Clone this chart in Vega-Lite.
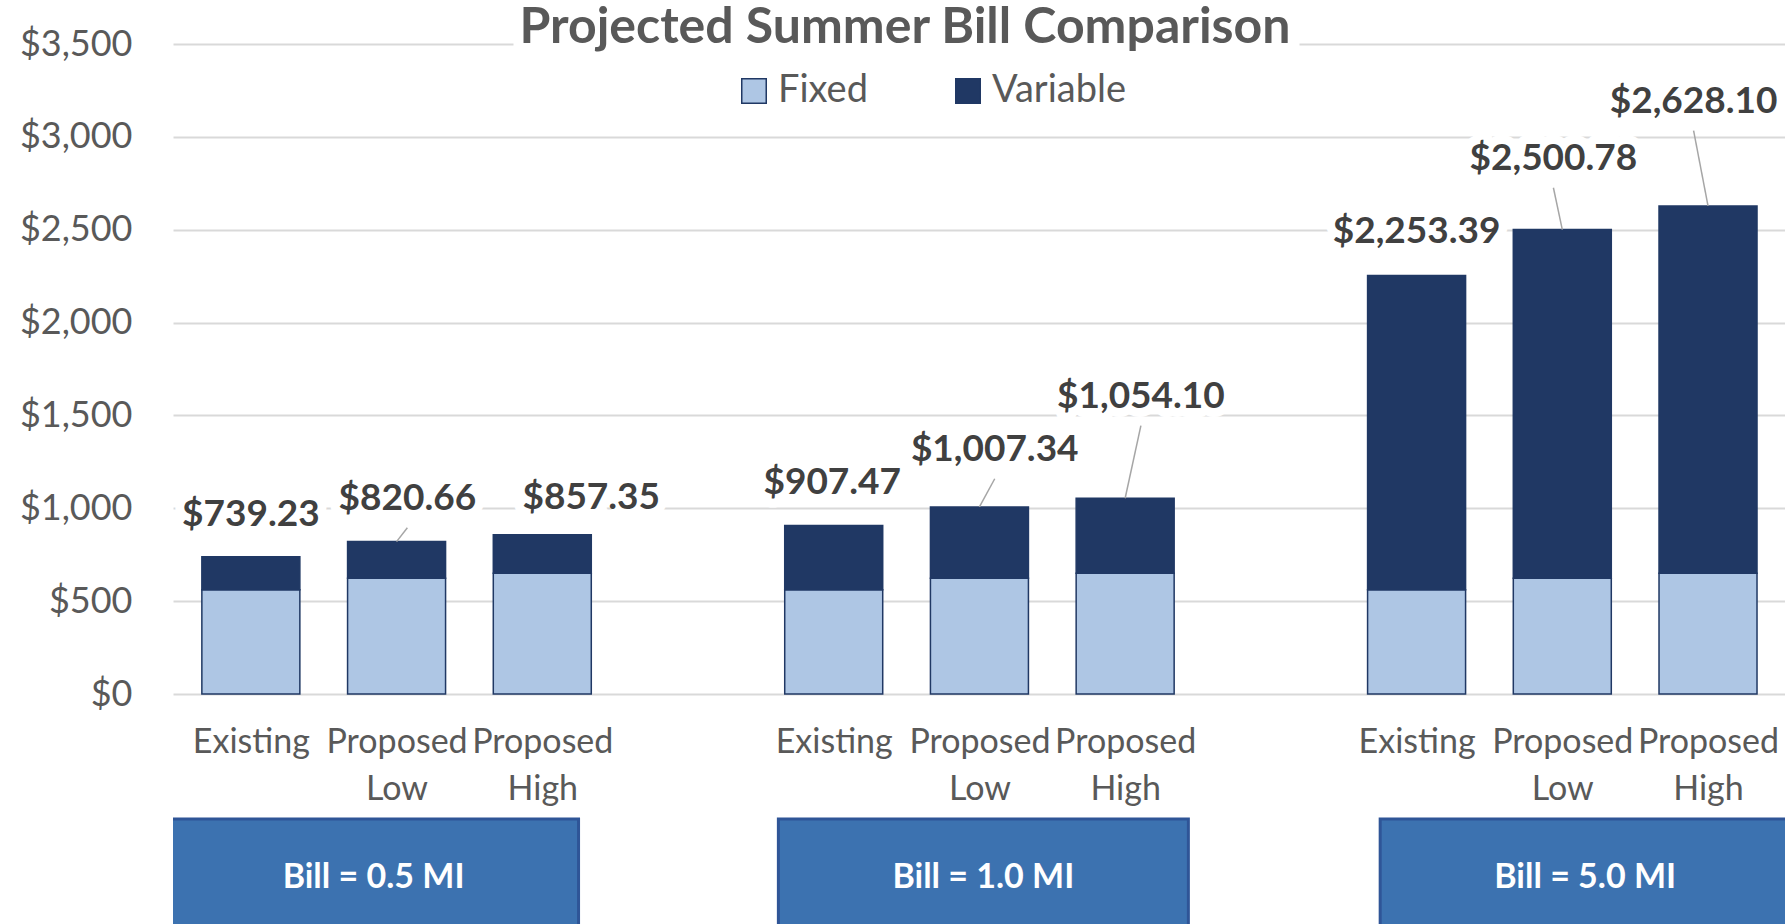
{
  "$schema": "https://vega.github.io/schema/vega-lite/v6.json",
  "background": "white",
  "padding": {"left": 0, "top": 3, "right": 0, "bottom": 0},
  "spacing": 0,
  "config": {"font": "Lato", "view": {"stroke": null}},
  "resolve": {"scale": {"color": "independent"}, "legend": {"color": "independent"}},
  "datasets": {
    "bars": [
      {"group": "0.5 MI", "scenario": "Existing", "slot": 0, "component": "Fixed", "amount": 561},
      {"group": "0.5 MI", "scenario": "Existing", "slot": 0, "component": "Variable", "amount": 178.23},
      {"group": "0.5 MI", "scenario": "Proposed Low", "slot": 1, "component": "Fixed", "amount": 623},
      {"group": "0.5 MI", "scenario": "Proposed Low", "slot": 1, "component": "Variable", "amount": 197.66},
      {"group": "0.5 MI", "scenario": "Proposed High", "slot": 2, "component": "Fixed", "amount": 650},
      {"group": "0.5 MI", "scenario": "Proposed High", "slot": 2, "component": "Variable", "amount": 207.35},
      {"group": "1.0 MI", "scenario": "Existing", "slot": 4, "component": "Fixed", "amount": 561},
      {"group": "1.0 MI", "scenario": "Existing", "slot": 4, "component": "Variable", "amount": 346.47},
      {"group": "1.0 MI", "scenario": "Proposed Low", "slot": 5, "component": "Fixed", "amount": 623},
      {"group": "1.0 MI", "scenario": "Proposed Low", "slot": 5, "component": "Variable", "amount": 384.34},
      {"group": "1.0 MI", "scenario": "Proposed High", "slot": 6, "component": "Fixed", "amount": 650},
      {"group": "1.0 MI", "scenario": "Proposed High", "slot": 6, "component": "Variable", "amount": 404.10},
      {"group": "5.0 MI", "scenario": "Existing", "slot": 8, "component": "Fixed", "amount": 561},
      {"group": "5.0 MI", "scenario": "Existing", "slot": 8, "component": "Variable", "amount": 1692.39},
      {"group": "5.0 MI", "scenario": "Proposed Low", "slot": 9, "component": "Fixed", "amount": 623},
      {"group": "5.0 MI", "scenario": "Proposed Low", "slot": 9, "component": "Variable", "amount": 1877.78},
      {"group": "5.0 MI", "scenario": "Proposed High", "slot": 10, "component": "Fixed", "amount": 650},
      {"group": "5.0 MI", "scenario": "Proposed High", "slot": 10, "component": "Variable", "amount": 1978.10}
    ],
    "labels": [
      {"slot": 0, "total": 739.23, "label_slot": 0.0, "label_amount": 809},
      {"slot": 1, "total": 820.66, "label_slot": 1.074, "label_amount": 895},
      {"slot": 2, "total": 857.35, "label_slot": 2.336, "label_amount": 901},
      {"slot": 4, "total": 907.47, "label_slot": 3.99, "label_amount": 982},
      {"slot": 5, "total": 1007.34, "label_slot": 5.105, "label_amount": 1159},
      {"slot": 6, "total": 1054.10, "label_slot": 6.108, "label_amount": 1445},
      {"slot": 8, "total": 2253.39, "label_slot": 8.0, "label_amount": 2333},
      {"slot": 9, "total": 2500.78, "label_slot": 8.939, "label_amount": 2726},
      {"slot": 10, "total": 2628.10, "label_slot": 9.901, "label_amount": 3033}
    ],
    "groups": [
      {"group": "Bill = 0.5 MI", "center": 0.842},
      {"group": "Bill = 1.0 MI", "center": 5.027},
      {"group": "Bill = 5.0 MI", "center": 9.157}
    ]
  },
  "vconcat": [
    {
      "width": 1612,
      "height": 650,
      "title": {
        "text": "Projected Summer Bill Comparison",
        "font": "Lato",
        "fontSize": 50,
        "fontWeight": "bold",
        "color": "#595959",
        "anchor": "middle",
        "frame": "group",
        "dx": -74,
        "offset": -67,
        "baseline": "alphabetic"
      },
      "layer": [
        {
          "data": {"name": "bars"},
          "mark": {"type": "bar", "width": 98, "stroke": "#203864", "strokeWidth": 1.5},
          "encoding": {
            "x": {
              "field": "slot", "type": "quantitative",
              "scale": {"domain": [-0.5, 10.494], "nice": false, "zero": false},
              "axis": {
                "values": [0, 1, 2, 4, 5, 6, 8, 9, 10],
                "labelExpr": "datum.value % 4 === 0 ? 'Existing' : ['Proposed', datum.value % 4 === 1 ? 'Low' : 'High']",
                "title": null, "grid": false, "domain": false, "ticks": false,
                "labelFont": "Lato", "labelFontSize": 34, "labelColor": "#595959",
                "labelPadding": 31, "labelLineHeight": 47,
                "labelOverlap": false, "labelFlush": false, "labelBound": false,
                "minExtent": 123, "maxExtent": 123
              }
            },
            "y": {
              "field": "amount", "type": "quantitative", "stack": "zero",
              "scale": {"domain": [0, 3500], "nice": false},
              "axis": {
                "values": [0, 500, 1000, 1500, 2000, 2500, 3000, 3500],
                "format": "$,.0f", "title": null, "domain": false, "ticks": false,
                "labelFont": "Lato", "labelFontSize": 36, "labelColor": "#595959",
                "labelPadding": 41, "minExtent": 173, "maxExtent": 173,
                "gridColor": "#D9D9D9", "gridWidth": 2,
                "gridDash": {"condition": {"test": "datum.value === 3500", "value": [340, 786, 3000, 0]}, "value": []}
              }
            },
            "order": {"field": "component", "sort": "ascending"},
            "color": {
              "field": "component", "type": "nominal",
              "scale": {"domain": ["Fixed", "Variable"], "range": ["#AEC6E4", "#203864"]},
              "legend": {
                "orient": "none", "legendX": 562, "legendY": 28, "direction": "horizontal",
                "title": null, "symbolType": "square", "symbolSize": 600,
                "symbolStrokeColor": "#203864", "symbolStrokeWidth": 1.5, "symbolOpacity": 1,
                "labelFont": "Lato", "labelFontSize": 38, "labelColor": "#595959",
                "labelOffset": 5, "columnPadding": 81, "padding": 0
              }
            }
          }
        },
        {
          "data": {"name": "labels"},
          "transform": [{"filter": {"field": "slot", "oneOf": [1, 5, 6, 9, 10]}}],
          "mark": {"type": "rule", "stroke": "#A6A6A6", "strokeWidth": 1.5},
          "encoding": {
            "x": {"field": "label_slot", "type": "quantitative"},
            "y": {"field": "label_amount", "type": "quantitative"},
            "x2": {"field": "slot"},
            "y2": {"field": "total"}
          }
        },
        {
          "data": {"name": "labels"},
          "mark": {"type": "text", "dy": -29, "font": "Lato", "fontSize": 37, "fontWeight": "bold", "fill": "white", "stroke": "white", "strokeWidth": 18, "strokeJoin": "round", "clip": true},
          "encoding": {
            "x": {"field": "label_slot", "type": "quantitative"},
            "y": {"field": "label_amount", "type": "quantitative"},
            "text": {"field": "total", "type": "quantitative", "format": "$,.2f"}
          }
        },
        {
          "data": {"name": "labels"},
          "mark": {"type": "text", "dy": -29, "font": "Lato", "fontSize": 37, "fontWeight": "bold", "color": "#404040", "clip": true},
          "encoding": {
            "x": {"field": "label_slot", "type": "quantitative"},
            "y": {"field": "label_amount", "type": "quantitative"},
            "text": {"field": "total", "type": "quantitative", "format": "$,.2f"}
          }
        }
      ]
    },
    {
      "width": 1612,
      "height": 110,
      "data": {"name": "groups"},
      "layer": [
        {
          "mark": {"type": "bar", "orient": "vertical", "width": 410, "fill": "#3C72B0", "stroke": "#2F5597", "strokeWidth": 3, "clip": true},
          "encoding": {
            "x": {"field": "center", "type": "quantitative", "scale": {"domain": [-0.5, 10.494], "nice": false, "zero": false}, "axis": null},
            "y": {"datum": 1, "type": "quantitative", "scale": {"domain": [0.3, 1.013], "nice": false, "zero": false}, "axis": null}
          }
        },
        {
          "mark": {"type": "text", "font": "Lato", "fontSize": 34, "fontWeight": "bold", "color": "white", "dy": 6, "clip": true},
          "encoding": {
            "x": {"field": "center", "type": "quantitative"},
            "text": {"field": "group", "type": "nominal"}
          }
        }
      ]
    }
  ]
}
